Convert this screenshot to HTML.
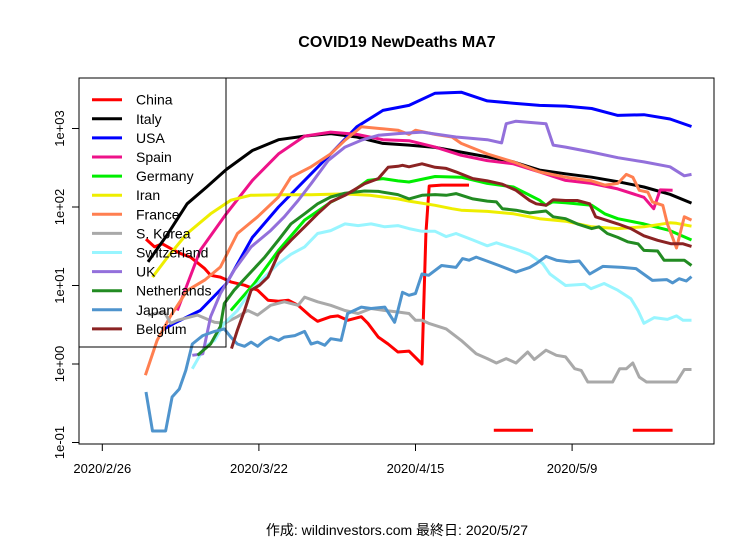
<!DOCTYPE html>
<html><head><meta charset="utf-8"><style>
html,body{margin:0;padding:0;background:#fff;}
svg{display:block;font-family:"Liberation Sans","Noto Sans CJK JP",sans-serif;}
</style></head><body>
<svg id="chart" width="756" height="542" viewBox="0 0 756 542">
<rect x="0" y="0" width="756" height="542" fill="#fff"/>
<text x="397" y="47" text-anchor="middle" font-size="16" font-weight="bold">COVID19 NewDeaths MA7</text>
<g id="series"></g>
<g id="axes"></g>
<g id="legend"></g>
<text x="397" y="535" text-anchor="middle" font-size="14">作成: wildinvestors.com 最終日: 2020/5/27</text>
</svg>
<script>
// x tick labels (day offsets from 2020/2/26)
const xTickDays=[0,24,48,72];
const xTickLabels=["2020/2/26","2020/3/22","2020/4/15","2020/5/9"];
const yTickLogs=[-1,0,1,2,3];
const yTickLabels=["1e-01","1e+00","1e+01","1e+02","1e+03"];
const seriesNames=["China","Italy","USA","Spain","Germany","Iran","France","S. Korea","Switzerland","UK","Netherlands","Japan","Belgium"];
const seriesColors=["#ff0000","#000000","#0000ff","#ee1289","#00ee00","#eeee00","#ff7f50","#a9a9a9","#98f5ff","#9370db","#228b22","#4f94cd","#8b2323"];

const chinaDays=[6.7,8,9.2,10.5,12,13.5,15.7,16.6,18.1,19.7,21.8,23.8,25.4,27,28.5,30,32,33,35,36.1,37.6,39.7,40.7,42.3,43.8,45.3,47,49,49.6,50.1,52,56.2,58,60,66,70,81.3,87.4];
const chinaVals=[39,31,34,29.5,25.5,23,16.4,13.5,12.8,11.1,10.1,8.7,6.5,6.3,6.5,5.6,4.0,3.5,4.0,4.1,3.6,4.0,3.3,2.2,1.8,1.42,1.46,1.0,46,185,190,190,null,0.143,0.143,null,0.143,0.143];
const italyDays=[7,10,13,16,19,23,27,31,35,39,43,47,51,55,59,63,67,71,75,79,83,87,90.3];
const italyVals=[20,45,110,180,300,525,720,800,860,780,645,615,575,500,435,375,295,265,240,210,180,145,112];
const usaDays=[9.2,11,15,19,23,27,31,35,39,43,47,51,55,59,63,67,71,75,79,83,87,90.3];
const usaVals=[2.7,3.3,4.8,10.5,41,100,218,475,1050,1700,1970,2820,2900,2250,2100,1970,1930,1800,1470,1500,1320,1060];
const spainDays=[11.5,15,19,23,27,31,35,39,43,47,51,55,59,63,67,71,75,79,83,84.5,85.5,87.4];
const spainVals=[4.8,28,82,218,475,800,900,840,720,700,580,455,390,355,280,218,200,170,133,95,165,163];
const germanyDays=[19.7,23.3,27,31,35,38.7,40.7,43,45.3,47,51,55,59,63,67,68,69,71,75,77,79,83,87,90.3];
const germanyVals=[4.8,10.6,28,68,115,165,218,230,215,208,245,240,200,180,122,105,116,113,105,82,71,61,50,38];
const iranDays=[7.7,10,13,16.6,19.7,22.7,27,32,37,41,45.3,47,51,53.6,55,59,63,67,71,75,79,83,87,88,90.3];
const iranVals=[12.8,23,46,82,122,141,143,143,147,141,127,119,105,95,91,88,82,71,66,56,53,56,63,62,57];
const franceDays=[6.6,8.4,10.4,13,15.7,18.1,20.7,23.8,27,28.9,32,35,37.2,39.7,45.3,47,48,51,53.6,55,59,63,67,71,75,77,79,80.3,81.3,82.3,83.6,84.3,85.9,86.6,88,89.2,90.3];
const franceVals=[0.72,2.0,4.0,8.6,11.7,17.2,46,75,134,240,325,475,710,1050,950,840,950,840,780,645,475,375,280,240,215,190,200,260,240,163,155,116,105,61,30,75,68];
const koreaDays=[7,9.5,10.5,11.5,14.6,17.2,18.7,20.7,22.3,23.8,25.8,27.9,30,31,33,35,37.2,39.2,41.2,43.3,45.3,47,48,49,50,52.7,55,57.3,59,60.4,61.9,63.4,65.2,66.2,68,69.6,71,72.4,73.4,74.4,78.2,79.3,80.3,81.3,82.3,83.4,88,89.2,90.3];
const koreaVals=[4.2,4.6,3.3,3.6,4.2,3.4,3.3,4.0,4.8,4.2,5.6,6.2,5.6,7.1,6.2,5.6,4.8,4.4,5.1,4.8,4.6,4.4,3.6,3.6,3.3,2.8,2.0,1.35,1.17,1.03,1.17,1.03,1.42,1.14,1.5,1.29,1.23,0.87,0.83,0.59,0.59,0.87,0.87,1.03,0.68,0.59,0.59,0.85,0.85];
const swissDays=[13.8,15.7,17.2,18.7,20.7,22.8,24.9,27,28.9,31,33,35,37.2,39.2,41.2,43.3,45.3,47,49,51,52.7,54.2,56.8,59,60.4,63.4,65.5,67.5,68.6,71,73.9,74.9,76.9,79,81,82.1,83,84.6,86.6,88,89,90.3];
const swissVals=[0.87,1.65,2.0,3.3,4.8,8.7,12.9,19,25,31,46,50,61,58,61,56,58,53,49,49,42,46,38,32,35,29,25,19,14,10,10.4,9.1,10.6,8.7,6.8,4.8,3.3,3.9,3.7,4.1,3.6,3.6];
const ukDays=[13.8,15.4,16.6,18.1,20.2,22.8,25.8,27.9,30,32,34.6,37.2,39.7,42.3,45.3,49,54.2,59,61.2,61.9,63.4,68,69.1,71,75,79,83,87,89.2,90.3];
const ukVals=[1.29,1.35,4.0,7.9,15.6,31,50,75,121,198,390,580,710,820,860,900,780,720,655,1150,1240,1150,615,580,500,425,375,325,250,260];
const nethDays=[14.6,16.6,18.1,18.7,20.2,22.8,24.9,27,28.9,31,33,35,37.2,40.2,42.3,45.3,47,49,51,52.7,54.2,56.8,59,60.4,61.3,63.4,65.5,68,69.1,71,72.8,75,76.1,77.4,79,80.5,82.1,83,85.1,86.1,88,89.2,90.3];
const nethVals=[1.29,1.8,3.0,5.9,8.7,14.9,23,38,61,82,110,134,150,160,158,144,127,141,144,141,148,127,119,116,95,91,84,89,75,71,61,53,56,46,41,36,34,28,27.5,21,21,21,18];
const japanDays=[6.7,7.7,9.7,10.7,11.8,12.8,13.8,15.4,17.2,18.7,19.7,20.7,21.8,22.8,23.8,24.9,25.8,27,27.9,29.5,31,32,33,34.1,35,36.6,37.6,39.7,41.2,43.3,44.8,45.3,46,47,48,49,50,52,54.2,55.2,56.2,57.3,59.3,60.8,63.4,65.5,66.5,68,69.6,71.6,73.1,74.7,76.7,79.7,81.8,84.3,86.5,87.4,88.4,89.5,90.3];
const japanVals=[0.44,0.14,0.14,0.38,0.48,0.83,1.8,2.3,2.6,2.8,2.2,1.8,1.68,1.9,1.68,2.0,2.2,2.0,2.2,2.3,2.6,1.8,1.9,1.73,2.1,2.0,4.4,5.3,5.1,5.3,3.4,4.8,8.2,7.5,7.9,14,13.5,18,17,22,21,23,20,18,14.8,17,19,23.5,21,20,20.5,14,17.5,17,16.4,11.6,11.9,10.8,12.2,11.4,13];
const belgDays=[19.8,20.7,21.8,22.8,24.1,25.4,27,28.9,31,33,35,37.2,40.2,42.3,43.8,45.3,46,47,49,51,52.7,54.2,56.8,59,61.3,63.4,65.5,66.5,68,69.1,71,72.8,74.7,75.6,79,81,83,85.1,87.2,89,90.3];
const belgVals=[1.57,2.7,4.8,8.7,10.1,12.8,25.5,37.6,56,82,116,141,198,230,320,330,340,325,355,320,310,280,230,215,195,163,121,110,105,124,121,121,110,75,61,53,43,37.6,34,34,31.5];

const allDays=[chinaDays,italyDays,usaDays,spainDays,germanyDays,iranDays,franceDays,koreaDays,swissDays,ukDays,nethDays,japanDays,belgDays];
const allVals=[chinaVals,italyVals,usaVals,spainVals,germanyVals,iranVals,franceVals,koreaVals,swissVals,ukVals,nethVals,japanVals,belgVals];

const NS="http://www.w3.org/2000/svg";
const PL=79,PR=714,PT=78,PB=444;
function xScale(d){return 102.3+d*6.525;}
function yScaleLog(l){return 364-78.5*l;}
function yScale(v){return yScaleLog(Math.log10(v));}
function mk(tag,attrs,parent){const e=document.createElementNS(NS,tag);for(const k in attrs)e.setAttribute(k,attrs[k]);parent.appendChild(e);return e;}

const sg=document.getElementById('series');
allDays.forEach((days,i)=>{
  let segs=[],cur=[];
  days.forEach((d,j)=>{const v=allVals[i][j];
    if(v==null){if(cur.length)segs.push(cur);cur=[];}
    else cur.push(xScale(d).toFixed(1)+","+yScale(v).toFixed(1));});
  if(cur.length)segs.push(cur);
  segs.forEach(s=>{
    const p=mk('polyline',{points:s.join(" "),fill:"none",stroke:seriesColors[i],"stroke-width":3,"stroke-linejoin":"round"},sg);
    
    
  });
});

const ax=document.getElementById('axes');
const box=mk('rect',{x:PL,y:PT,width:PR-PL,height:PB-PT,fill:"none",stroke:"#000","stroke-width":1},ax);


xTickDays.forEach((d,i)=>{
  const x=xScale(d);
  const t=mk('line',{x1:x,y1:PB,x2:x,y2:PB+7,stroke:"#000"},ax);
  
  
  const lb=mk('text',{x:x,y:PB+29,"text-anchor":"middle","font-size":13},ax);
  lb.textContent=xTickLabels[i];
  
  
});
yTickLogs.forEach((l,i)=>{
  const y=yScaleLog(l);
  const t=mk('line',{x1:PL-7,y1:y,x2:PL,y2:y,stroke:"#000"},ax);
  
  
  const lb=mk('text',{x:0,y:0,"text-anchor":"middle","font-size":13,transform:"translate(64,"+y+") rotate(-90)"},ax);
  lb.textContent=yTickLabels[i];
  
  
});

const lg=document.getElementById('legend');
const lb=mk('rect',{x:PL,y:PT,width:147,height:269,fill:"none",stroke:"#000","stroke-width":1},lg);


seriesNames.forEach((n,i)=>{
  const y=99.7+i*19.1;
  const g=mk('g',{},lg);
  
  
  mk('line',{x1:92,y1:y,x2:122,y2:y,stroke:seriesColors[i],"stroke-width":3},g);
  const t=mk('text',{x:136,y:y+5,"font-size":14},g);
  t.textContent=n;
});
</script>
</body></html>
